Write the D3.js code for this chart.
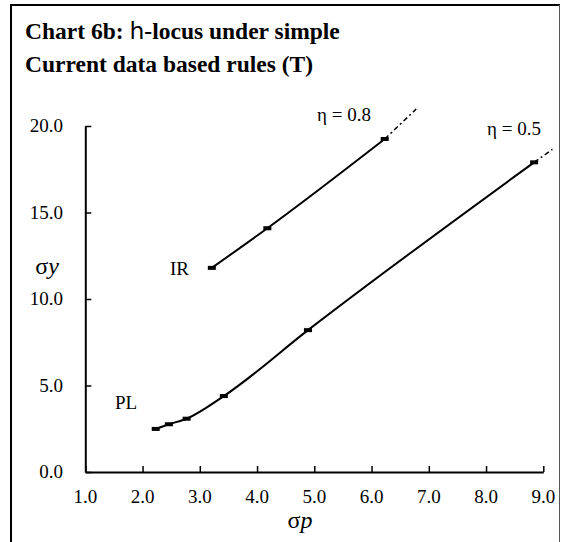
<!DOCTYPE html>
<html>
<head>
<meta charset="utf-8">
<script src="https://cdn.jsdelivr.net/npm/d3@7"></script>
<style>
  body { margin: 0; background: #fff; }
</style>
</head>
<body>
<div id="chart"></div>
<script>
// eta = 0.8 locus (IR)
const irX = [3.21, 4.18, 6.23];
const irY = [11.8, 14.09, 19.25];
const irExtX = [6.23, 6.78];
const irExtY = [19.25, 20.98];

// eta = 0.5 locus (PL)
const plX = [2.23, 2.46, 2.77, 3.42, 4.89, 8.84];
const plY = [2.49, 2.76, 3.08, 4.39, 8.2, 17.9];
const plExtX = [8.84, 9.16];
const plExtY = [17.9, 18.65];

const xTicks = [1, 2, 3, 4, 5, 6, 7, 8, 9];
const yTicks = [0, 5, 10, 15, 20];

const SERIF = "'Liberation Serif', 'Times New Roman', serif";
const W = 561, H = 542;
const svg = d3.select("#chart").append("svg")
  .attr("width", W).attr("height", H)
  .attr("font-family", SERIF);

// frame
svg.append("line").attr("x1", 11).attr("y1", 5).attr("x2", 11).attr("y2", H)
  .attr("stroke", "#000").attr("stroke-width", 2);
svg.append("line").attr("x1", 10).attr("y1", 5).attr("x2", 560).attr("y2", 5)
  .attr("stroke", "#000").attr("stroke-width", 2);
svg.append("line").attr("x1", 559.5).attr("y1", 5).attr("x2", 559.5).attr("y2", H)
  .attr("stroke", "#555").attr("stroke-width", 1);

// title
const title = svg.append("text").attr("x", 25).attr("font-weight", "bold")
  .attr("font-family", SERIF).style("font-size", "23.5px");
const t1 = title.append("tspan").attr("x", 25).attr("y", 39);
t1.append("tspan").text("Chart 6b: ");
t1.append("tspan").attr("font-weight", "normal")
  .attr("font-family", "'DejaVu Sans', sans-serif").text("h");
t1.append("tspan").text("-locus under simple");
title.append("tspan").attr("x", 25).attr("y", 72).text("Current data based rules (T)");

const x = d3.scaleLinear().domain([1, 9]).range([85.3, 543.3]);
const y = d3.scaleLinear().domain([0, 20]).range([472, 126]);

const xAxis = svg.append("g").attr("transform", `translate(0,${y(0)})`)
  .call(d3.axisTop(x).tickValues(xTicks).tickSize(6).tickSizeOuter(0).tickFormat(""));
const yAxis = svg.append("g").attr("transform", `translate(${x(1)},0)`)
  .call(d3.axisRight(y).tickValues(yTicks).tickSize(6).tickSizeOuter(0).tickFormat(""));
[xAxis, yAxis].forEach(g => {
  g.select(".domain").attr("stroke", "#000").attr("stroke-width", 2);
  g.selectAll(".tick line").attr("stroke", "#000").attr("stroke-width", 1.5);
});

svg.append("g").selectAll("text").data(xTicks).join("text")
  .attr("x", d => x(d)).attr("y", 503)
  .attr("text-anchor", "middle").attr("font-family", SERIF).style("font-size", "19px")
  .text(d => d.toFixed(1));
svg.append("g").selectAll("text").data(yTicks).join("text")
  .attr("x", 63).attr("y", d => y(d) + 6)
  .attr("text-anchor", "end").attr("font-family", SERIF).style("font-size", "19px")
  .text(d => d.toFixed(1));

// axis titles
const xt = svg.append("text").attr("x", 300).attr("y", 528)
  .attr("text-anchor", "middle").attr("font-family", SERIF).style("font-size", "24px");
xt.append("tspan").text("σ");
xt.append("tspan").attr("font-style", "italic").text("p");
const yt = svg.append("text").attr("x", 47).attr("y", 274)
  .attr("text-anchor", "middle").attr("font-family", SERIF).style("font-size", "24px");
yt.append("tspan").text("σ");
yt.append("tspan").attr("font-style", "italic").text("y");

const line = d3.line().x(d => x(d[0])).y(d => y(d[1])).curve(d3.curveMonotoneX);
const straight = d3.line().x(d => x(d[0])).y(d => y(d[1]));

function drawSeries(xs, ys, exs, eys) {
  const pts = xs.map((v, i) => [v, ys[i]]);
  svg.append("path").attr("d", line(pts))
    .attr("fill", "none").attr("stroke", "#000").attr("stroke-width", 2);
  svg.append("path").attr("d", straight(exs.map((v, i) => [v, eys[i]])))
    .attr("fill", "none").attr("stroke", "#000").attr("stroke-width", 1.5)
    .attr("stroke-dasharray", "5,3,2,3");
  svg.append("g").selectAll("rect").data(pts).join("rect")
    .attr("x", d => x(d[0]) - 4).attr("y", d => y(d[1]) - 2)
    .attr("width", 8).attr("height", 4).attr("fill", "#000");
}
drawSeries(irX, irY, irExtX, irExtY);
drawSeries(plX, plY, plExtX, plExtY);

// labels
const labels = [
  { t: "IR", x: 170, y: 275, a: "start" },
  { t: "PL", x: 115, y: 409, a: "start" },
  { t: "η = 0.8", x: 344, y: 121, a: "middle" },
  { t: "η = 0.5", x: 514, y: 135, a: "middle" }
];
svg.append("g").selectAll("text").data(labels).join("text")
  .attr("x", d => d.x).attr("y", d => d.y).attr("text-anchor", d => d.a)
  .attr("font-family", SERIF).style("font-size", "19px").text(d => d.t);
</script>
</body>
</html>
